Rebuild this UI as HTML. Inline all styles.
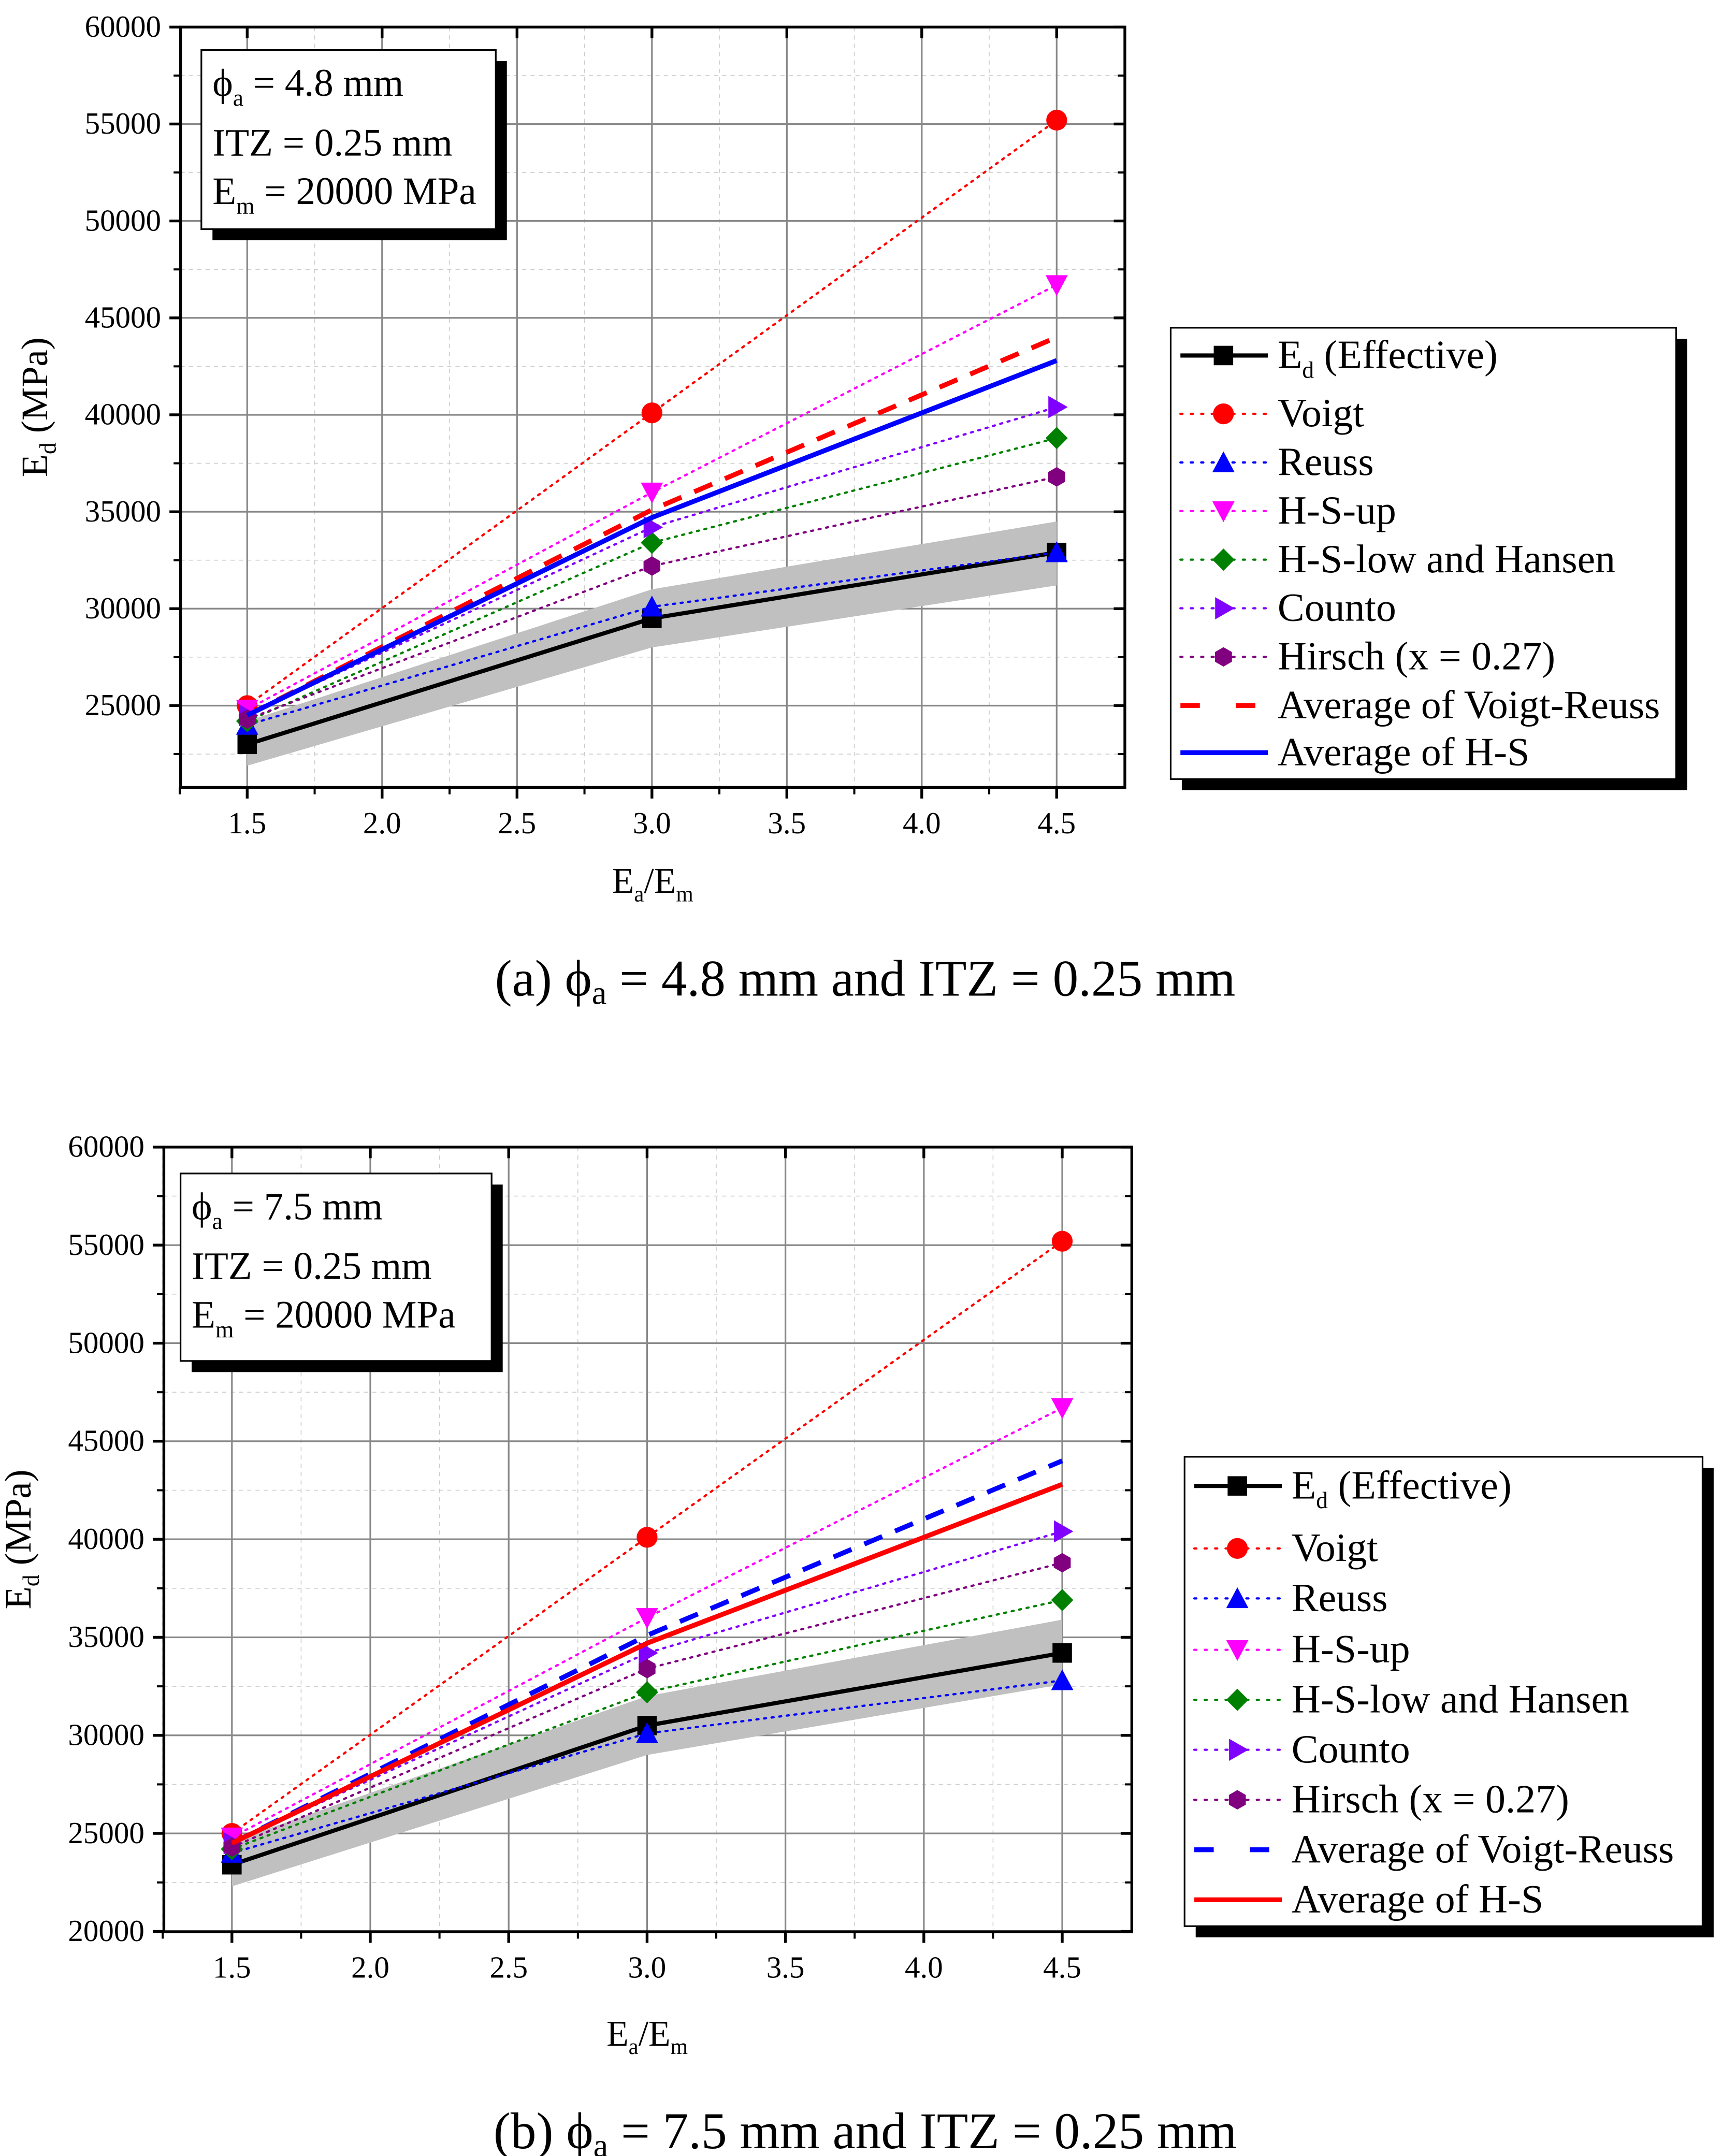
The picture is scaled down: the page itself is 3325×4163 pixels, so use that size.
<!DOCTYPE html>
<html><head><meta charset="utf-8"><style>
html,body{margin:0;padding:0;background:#fff;}
svg{display:block;font-family:"Liberation Serif",serif;}
</style></head><body>
<svg id="fig" width="3325" height="4163" viewBox="0 0 1240 1552.5" preserveAspectRatio="none" xmlns="http://www.w3.org/2000/svg">
<rect width="1240" height="1552.5" fill="#fff"/>
</svg>
<script>
const xCats = [1.5, 3.0, 4.5];
const xTicks = [1.5, 2.0, 2.5, 3.0, 3.5, 4.0, 4.5];
const xTickLabels = ["1.5","2.0","2.5","3.0","3.5","4.0","4.5"];
const yTicksA = [25000,30000,35000,40000,45000,50000,55000,60000];
const yTicksB = [20000,25000,30000,35000,40000,45000,50000,55000,60000];

// Chart (a)
const edA = [23000, 29500, 32900];
const bandLoA = [21900, 28000, 31200];
const bandHiA = [24200, 31000, 34500];
const voigtA = [25000, 40100, 55200];
const reussA = [24000, 30100, 32900];
const hsUpA = [24800, 36000, 46700];
const hsLowA = [24200, 33400, 38800];
const countoA = [24500, 34200, 40400];
const hirschA = [24300, 32200, 36800];
const avgVRA = [24500, 35100, 44000];
const avgHSA = [24500, 34700, 42800];

// Chart (b)
const edB = [23400, 30500, 34200];
const bandLoB = [22300, 29000, 32600];
const bandHiB = [24600, 32000, 35900];
const voigtB = [25000, 40100, 55200];
const reussB = [24000, 30100, 32800];
const hsUpB = [24800, 36000, 46700];
const hsLowB = [24200, 32200, 36900];
const countoB = [24500, 34200, 40400];
const hirschB = [24300, 33400, 38800];
const avgVRB = [24500, 35100, 44000];
const avgHSB = [24500, 34700, 42800];

const NS = "http://www.w3.org/2000/svg";
const svg = document.getElementById("fig");
function mk(tag, attrs, parent, txt){
  const e = document.createElementNS(NS, tag);
  for (const k in attrs) e.setAttribute(k, attrs[k]);
  if (txt !== undefined) e.textContent = txt;
  (parent || svg).appendChild(e);
  return e;
}

function marker(g, shape, cx, cy, color, s){
  let el;
  if (shape === "square") el = mk("rect", {x:cx-s, y:cy-s, width:2*s, height:2*s, fill:color}, g);
  else if (shape === "circle") el = mk("circle", {cx:cx, cy:cy, r:s+0.5, fill:color}, g);
  else if (shape === "up") el = mk("polygon", {points:`${cx},${cy-s-1} ${cx-s-1},${cy+s} ${cx+s+1},${cy+s}`, fill:color}, g);
  else if (shape === "down") el = mk("polygon", {points:`${cx-s-1},${cy-s} ${cx+s+1},${cy-s} ${cx},${cy+s+1}`, fill:color}, g);
  else if (shape === "diamond") el = mk("polygon", {points:`${cx},${cy-s-1} ${cx+s+1},${cy} ${cx},${cy+s+1} ${cx-s-1},${cy}`, fill:color}, g);
  else if (shape === "right") el = mk("polygon", {points:`${cx-s+1},${cy-s-1} ${cx+s+1},${cy} ${cx-s+1},${cy+s+1}`, fill:color}, g);
  else if (shape === "hex") {
    const p = [];
    for (let i=0;i<6;i++){const a=Math.PI/6+i*Math.PI/3; p.push((cx+s*Math.cos(a)).toFixed(1)+","+(cy+s*Math.sin(a)).toFixed(1));}
    el = mk("polygon", {points:p.join(" "), fill:color}, g);
  }
  
  
}

function drawChart(c){
  const g = mk("g", {});
  
  
  const X = v => c.x0 + (v - 1.5) * c.xs;
  const Y = v => c.y60 + (60000 - v) * c.ys;
  for (let v=1.25; v<4.75; v+=0.5){ const l=mk("line",{x1:X(v),x2:X(v),y1:c.top,y2:c.bot,stroke:"#ccc","stroke-width":0.6,"stroke-dasharray":"3,3"},g);   }
  for (let v=22500; v<60000; v+=5000){ if (Y(v)>c.bot) continue; const l=mk("line",{x1:c.left,x2:c.right,y1:Y(v),y2:Y(v),stroke:"#ccc","stroke-width":0.6,"stroke-dasharray":"3,3"},g);   }
  xTicks.forEach(v => { const l=mk("line",{x1:X(v),x2:X(v),y1:c.top,y2:c.bot,stroke:"#888","stroke-width":1.2},g);   });
  c.yTicks.forEach(v => { const l=mk("line",{x1:c.left,x2:c.right,y1:Y(v),y2:Y(v),stroke:"#888","stroke-width":1.2},g);   });
  const bp = xCats.map((x,i)=>X(x)+","+Y(c.bandHi[i])).concat(xCats.slice().reverse().map((x,j)=>{const i=xCats.length-1-j;return X(x)+","+Y(c.bandLo[i]);}));
  const band = mk("polygon",{points:bp.join(" "),fill:"#c0c0c0"},g);
  
  
  c.series.forEach(s => {
    const pts = xCats.map((x,i)=>X(x)+","+Y(s.data[i])).join(" ");
    const attrs = {points:pts, fill:"none", stroke:s.color, "stroke-width":s.w};
    if (s.dash) attrs["stroke-dasharray"] = s.dash;
    if (s.dash === "1.5,4") attrs["stroke-linecap"]="round";
    const pl = mk("polyline", attrs, g);
    
    
    if (s.marker) xCats.forEach((x,i)=>marker(g, s.marker, X(x), Y(s.data[i]), s.color, 7));
  });
  const fr = mk("rect",{x:c.left,y:c.top,width:c.right-c.left,height:c.bot-c.top,fill:"none",stroke:"#000","stroke-width":2},g);
  
  
  xTicks.forEach((v,i) => {
    mk("line",{x1:X(v),x2:X(v),y1:c.bot,y2:c.bot+8,stroke:"#000","stroke-width":2},g);
    mk("line",{x1:X(v),x2:X(v),y1:c.top,y2:c.top+8,stroke:"#000","stroke-width":2},g);
    const t = mk("text",{x:X(v),y:c.bot+33,"font-size":22,"text-anchor":"middle"},g,xTickLabels[i]);
    
    
  });
  for (let v=1.25; v<4.75; v+=0.5){ mk("line",{x1:X(v),x2:X(v),y1:c.bot,y2:c.bot+5,stroke:"#000","stroke-width":1.5},g); }
  c.yTicks.forEach(v => {
    mk("line",{x1:c.left-8,x2:c.left,y1:Y(v),y2:Y(v),stroke:"#000","stroke-width":2},g);
    mk("line",{x1:c.right-8,x2:c.right,y1:Y(v),y2:Y(v),stroke:"#000","stroke-width":2},g);
    const t = mk("text",{x:c.left-14,y:Y(v)+7,"font-size":22,"text-anchor":"end"},g,String(v));
    
    
  });
  for (let v=22500; v<60000; v+=5000){ if (Y(v)>c.bot) continue; mk("line",{x1:c.left-5,x2:c.left,y1:Y(v),y2:Y(v),stroke:"#000","stroke-width":1.5},g); mk("line",{x1:c.right-5,x2:c.right,y1:Y(v),y2:Y(v),stroke:"#000","stroke-width":1.5},g); }
  const yt = mk("text",{transform:`translate(${c.ytX},${(c.top+c.bot)/2}) rotate(-90)`,"font-size":27,"text-anchor":"middle"},g);
  
  
  mk("tspan",{},yt,"E");
  mk("tspan",{"font-size":17,dy:6},yt,"d");
  mk("tspan",{dy:-6},yt," (MPa)");
  const xt = mk("text",{x:c.xtX,y:c.xtY,"font-size":26,"text-anchor":"middle"},g);
  
  
  mk("tspan",{},xt,"E");
  mk("tspan",{"font-size":16,dy:6},xt,"a");
  mk("tspan",{dy:-6},xt,"/E");
  mk("tspan",{"font-size":16,dy:6},xt,"m");
  const ib = c.info;
  mk("rect",{x:ib.x+8,y:ib.y+8,width:ib.w,height:ib.h,fill:"#000"},g);
  const ibr = mk("rect",{x:ib.x,y:ib.y,width:ib.w,height:ib.h,fill:"#fff",stroke:"#000","stroke-width":1.2},g);
  
  
  const t1 = mk("text",{x:ib.x+8,y:ib.y+33,"font-size":28},g);
  
  
  mk("tspan",{},t1,"ϕ"); mk("tspan",{"font-size":17,dy:7},t1,"a"); mk("tspan",{dy:-7},t1," = " + ib.d + " mm");
  const t2 = mk("text",{x:ib.x+8,y:ib.y+76,"font-size":28},g,"ITZ = 0.25 mm");
  
  
  const t3 = mk("text",{x:ib.x+8,y:ib.y+111,"font-size":28},g);
  
  
  mk("tspan",{},t3,"E"); mk("tspan",{"font-size":17,dy:7},t3,"m"); mk("tspan",{dy:-7},t3," = 20000 MPa");
  const L = c.legend;
  mk("rect",{x:L.x+8,y:L.y+8,width:L.w,height:L.h,fill:"#000"},g);
  const lr = mk("rect",{x:L.x,y:L.y,width:L.w,height:L.h,fill:"#fff",stroke:"#000","stroke-width":1.2},g);
  
  
  const names = ["E_d (Effective)","Voigt","Reuss","H-S-up","H-S-low and Hansen","Counto","Hirsch (x = 0.27)","Average of Voigt-Reuss","Average of H-S"];
  c.series.forEach((s,i) => {
    const ly = L.rows[i];
    const lg = mk("g",{},g);
    
    
    const la = {x1:L.x+7,x2:L.x+70,y1:ly,y2:ly,stroke:s.color,"stroke-width":s.w};
    if (s.dash) la["stroke-dasharray"] = s.dash === "1.5,4" ? "1.5,6" : "14,26";
    if (s.dash === "1.5,4") la["stroke-linecap"]="round";
    mk("line",la,lg);
    if (s.marker) marker(lg, s.marker, L.x+38, ly, s.color, 7);
    const tx = mk("text",{x:L.x+77,y:ly+9,"font-size":29},lg);
    if (i===0){ mk("tspan",{},tx,"E"); mk("tspan",{"font-size":17,dy:7},tx,"d"); mk("tspan",{dy:-7},tx," (Effective)"); }
    else tx.textContent = names[i];
  });
  const cap = mk("text",{x:623,y:c.capY,"font-size":37,"text-anchor":"middle"},g);
  
  
  mk("tspan",{},cap,c.capPre + " ϕ"); mk("tspan",{"font-size":24,dy:6},cap,"a"); mk("tspan",{dy:-6},cap," = " + ib.d + " mm and ITZ = 0.25 mm");
}

function seriesFor(ed, v, r, hu, hl, co, hi, avr, ahs, cVR, cHS){
  return [
    {key:"ed", data:ed, color:"#000", w:3, marker:"square"},
    {key:"voigt", data:v, color:"#ff0000", w:1.6, dash:"1.5,4", marker:"circle"},
    {key:"reuss", data:r, color:"#0000ff", w:1.6, dash:"1.5,4", marker:"up"},
    {key:"hs-up", data:hu, color:"#ff00ff", w:1.6, dash:"1.5,4", marker:"down"},
    {key:"hs-low", data:hl, color:"#008000", w:1.6, dash:"1.5,4", marker:"diamond"},
    {key:"counto", data:co, color:"#8000ff", w:1.6, dash:"1.5,4", marker:"right"},
    {key:"hirsch", data:hi, color:"#800080", w:1.6, dash:"1.5,4", marker:"hex"},
    {key:"avg-voigt-reuss", data:avr, color:cVR, w:3.5, dash:"14,10"},
    {key:"avg-hs", data:ahs, color:cHS, w:3.5}
  ];
}

drawChart({id:"chart-a", x0:178, xs:194.3, y60:19.5, ys:69.8/5000, left:130, right:810, top:19.5, bot:567,
  yTicks:yTicksA, bandLo:bandLoA, bandHi:bandHiA,
  series:seriesFor(edA,voigtA,reussA,hsUpA,hsLowA,countoA,hirschA,avgVRA,avgHSA,"#ff0000","#0000ff"),
  ytX:34, xtX:470, xtY:643,
  info:{x:145,y:36,w:212,h:129,d:"4.8"},
  legend:{x:843,y:236,w:364,h:325,rows:[256,298,333,368,403,438,473,508,542]},
  capY:717, capPre:"(a)"});
drawChart({id:"chart-b", x0:167, xs:199.3, y60:826, ys:70.6/5000, left:118, right:815, top:826, bot:1391,
  yTicks:yTicksB, bandLo:bandLoB, bandHi:bandHiB,
  series:seriesFor(edB,voigtB,reussB,hsUpB,hsLowB,countoB,hirschB,avgVRB,avgHSB,"#0000ff","#ff0000"),
  ytX:22, xtX:466, xtY:1473,
  info:{x:130,y:845,w:224,h:135,d:"7.5"},
  legend:{x:853,y:1049,w:373,h:338,rows:[1070,1115,1151,1188,1224,1260,1296,1332,1368]},
  capY:1547, capPre:"(b)"});
</script>
</body></html>
